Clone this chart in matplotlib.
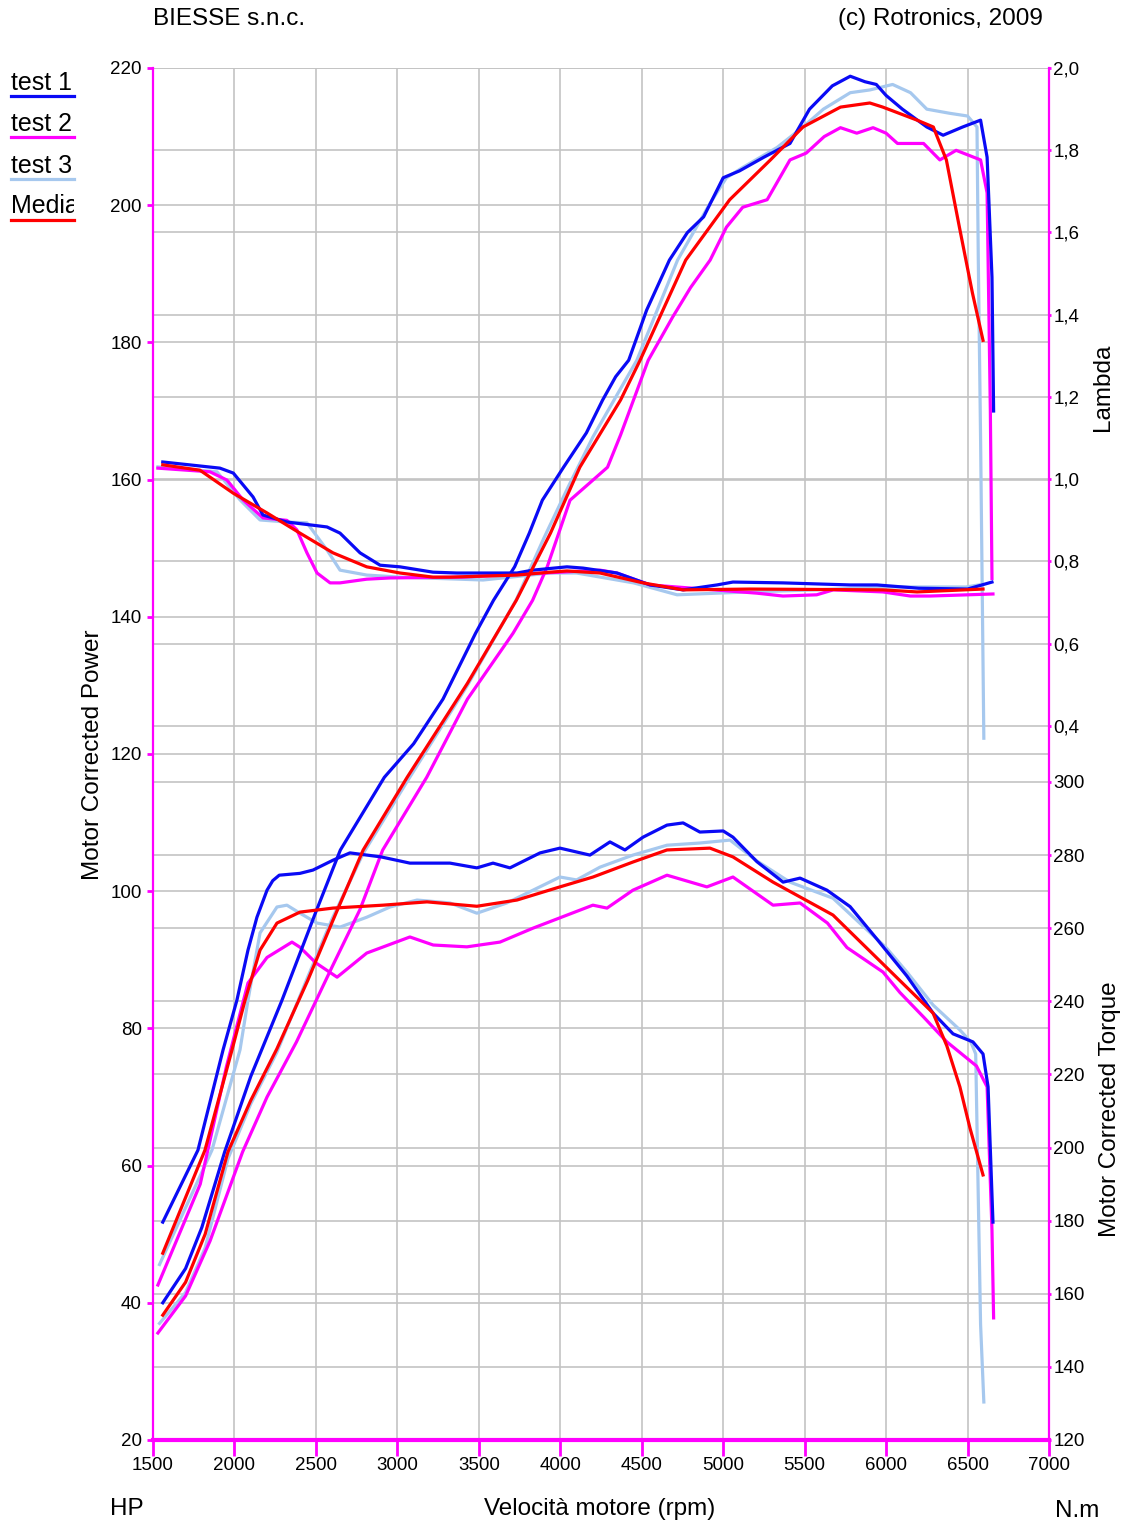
import matplotlib
matplotlib.use('Agg')
import matplotlib.pyplot as plt
from matplotlib.ticker import FuncFormatter, FixedLocator
from matplotlib.transforms import blended_transform_factory, Bbox, TransformedBbox
from matplotlib.lines import Line2D

plt.rcParams['font.family'] = ['Liberation Sans', 'DejaVu Sans']

# ---------------- data ----------------
series_names = ['test 1', 'test 2', 'test 3', 'Media']
series_colors = ['#0a0af5', '#ff00ff', '#a6c8ee', '#ff0000']

# Power (HP)
p1_rpm = [1560,1700,1800,1940,2100,2290,2500,2650,2920,3100,3280,3480,3590,3720,3810,3890,4020,4160,4260,4340,4420,4530,4670,4780,4880,5000,5100,5250,5410,5530,5670,5780,5870,5940,6000,6100,6250,6350,6470,6580,6620,6650,6660]
p1_hp = [40,45,51,62,73,84,97,106,116.6,121.5,128,137.6,142.4,147.3,152.2,157,161.8,166.8,171.6,175,177.4,184.7,192,196,198.3,204,205,207,209,214,217.4,218.8,218,217.6,216,214,211.4,210.2,211.4,212.4,207,189.5,170]
p2_rpm = [1530,1700,1850,2050,2200,2380,2600,2770,2910,3180,3430,3710,3830,3920,4060,4180,4290,4370,4540,4690,4800,4920,5020,5120,5270,5410,5510,5620,5720,5820,5920,6000,6070,6230,6330,6430,6580,6620,6640,6650]
p2_hp = [35.6,41,49,62,70,78,89,97.3,106,116.6,128,137.6,142.4,147.3,157,159.5,161.8,166.5,177.4,183.7,188,192,196.8,199.7,200.8,206.6,207.6,210,211.3,210.5,211.3,210.5,209,209,206.6,208,206.6,201.8,170,145.6]
p3_rpm = [1540,1700,1820,1960,2100,2260,2450,2600,2790,3060,3430,3730,3900,4050,4200,4470,4720,4920,5020,5120,5330,5490,5615,5780,5900,6040,6150,6250,6390,6500,6558,6566,6580,6600]
p3_hp = [37,41.5,48,61,69,76.5,87.5,96,105.5,116,130,142.5,151.5,159,166.2,177.4,192,200.3,204,205.5,208.4,211.4,214,216.4,216.8,217.6,216.4,214,213.4,213,211.4,192,166,122.3]
p4_rpm = [1560,1700,1820,1960,2100,2260,2450,2600,2790,3060,3430,3730,3940,4120,4370,4490,4770,5040,5290,5490,5720,5900,5980,6190,6290,6370,6450,6530,6595]
p4_hp = [38.2,43,50,62,69.5,77,87,95.5,106,116.6,130.3,142.4,152.2,161.8,171.6,177.4,192,200.8,206.6,211.4,214.3,214.9,214.3,212.4,211.4,206.6,196.8,187.2,180.3]

# Torque (N.m)
t1_rpm = [1560,1776,1930,2015,2083,2138,2200,2235,2275,2402,2482,2605,2709,2900,3077,3323,3488,3587,3691,3876,3998,4182,4305,4397,4508,4655,4754,4857,5000,5060,5207,5368,5472,5637,5779,5944,6128,6288,6411,6533,6595,6626,6656]
t1_nm = [179.6,199.3,226.7,240.3,254,263,270.4,273,274.5,275,275.9,278.6,280.6,279.5,277.8,277.8,276.5,277.8,276.5,280.6,281.9,280,283.6,281.4,284.9,288.2,288.8,286.3,286.6,284.9,278.2,272.6,273.7,270.4,265.9,257,246.9,236.8,231.1,228.9,225.6,216.6,179.6]
t2_rpm = [1530,1790,1950,2083,2200,2353,2402,2500,2630,2812,3077,3220,3427,3630,3832,4200,4287,4446,4655,4900,5060,5306,5472,5640,5760,5981,6085,6230,6373,6555,6620,6650,6660]
t2_nm = [162.4,190,222,245,252,256.2,254.8,250.5,246.6,253.2,257.6,255.4,254.9,256.2,260,266.3,265.5,270.4,274.5,271.3,274,266.3,266.9,261.4,254.7,248,242.4,235.7,228.9,222.3,216.6,177.4,153.4]
t3_rpm = [1540,1862,2034,2083,2157,2261,2322,2402,2507,2648,2812,2955,3121,3323,3488,3672,3998,4100,4244,4446,4655,4857,5042,5207,5410,5674,6000,6128,6288,6450,6520,6550,6580,6600]
t3_nm = [168,199.3,226.7,240.3,258.7,265.8,266.3,264.1,261.4,260.3,263,265.8,267.7,266.9,264.1,266.9,274,273.2,276.7,280,282.7,283.3,284.1,278.4,272.6,268.2,254.7,248,239,232.3,228.9,225.6,151.6,130.4]
t4_rpm = [1560,1819,1985,2065,2157,2261,2402,2605,2912,3182,3488,3734,3998,4201,4446,4655,4919,5060,5306,5674,5981,6288,6373,6453,6515,6595]
t4_nm = [171.1,199.3,226.7,240.3,254,261.4,264.4,265.5,266.3,267.2,266,267.7,271.3,274,278.1,281.4,281.9,279.5,272.6,263.6,250.2,236.8,227.8,216.6,205.3,192.5]

# Lambda
l1_rpm = [1560,1911,1993,2114,2175,2322,2568,2648,2771,2894,3016,3219,3366,3734,3832,4041,4139,4348,4551,4754,4962,5060,5367,5778,5944,6200,6500,6650]
l1_val = [1.042,1.027,1.015,0.957,0.913,0.896,0.884,0.869,0.821,0.791,0.787,0.774,0.772,0.772,0.779,0.787,0.784,0.772,0.743,0.731,0.743,0.75,0.748,0.743,0.743,0.735,0.733,0.75]
l2_rpm = [1530,1850,1954,2052,2175,2322,2383,2445,2507,2587,2648,2812,2955,3400,3900,4244,4348,4551,5207,5367,5574,5676,5981,6149,6270,6656]
l2_val = [1.027,1.018,0.998,0.95,0.906,0.9,0.877,0.821,0.772,0.748,0.748,0.757,0.76,0.762,0.772,0.779,0.772,0.743,0.723,0.716,0.719,0.731,0.726,0.716,0.716,0.721]
l3_rpm = [1530,1893,2034,2157,2322,2445,2568,2648,2812,3016,3526,3937,4100,4450,4717,4962,5165,5574,5981,6490,6570]
l3_val = [1.03,1.018,0.95,0.901,0.896,0.894,0.828,0.779,0.767,0.762,0.755,0.772,0.772,0.748,0.719,0.723,0.726,0.731,0.738,0.738,0.743]
l4_rpm = [1560,1788,1993,2200,2402,2605,2812,3016,3219,3323,3734,3937,4041,4244,4508,4754,5165,5981,6190,6595]
l4_val = [1.035,1.022,0.966,0.918,0.869,0.821,0.787,0.772,0.762,0.762,0.767,0.774,0.777,0.772,0.748,0.731,0.733,0.731,0.726,0.733]

rpm_ticks = [1500,2000,2500,3000,3500,4000,4500,5000,5500,6000,6500,7000]
hp_ticks = [20,40,60,80,100,120,140,160,180,200,220]
lambda_ticks = [0.4,0.6,0.8,1.0,1.2,1.4,1.6,1.8,2.0]
torque_ticks = [120,140,160,180,200,220,240,260,280,300]

# ---------------- figure ----------------
W, H = 1123, 1524
fig = plt.figure(figsize=(W / 100, H / 100), dpi=100)
def fx(px): return px / W
def fy(py): return 1 - py / H

MAG = '#ff00ff'
GRID = '#c3c3c3'
FS_T = 13.5
FS_L = 17.5

axP = fig.add_axes([fx(153), fy(1440), fx(1049) - fx(153), fy(68) - fy(1440)])
axL = axP.twinx()
axT = axP.twinx()
axP.set_xlim(1500, 7000)
axP.set_ylim(20, 220)
axL.set_ylim(-1.3362, 2.0)
axT.set_ylim(120, 495.3)

for a in (axL, axT):
    a.patch.set_visible(False)
    for s in a.spines.values():
        s.set_visible(False)
axT.spines['right'].set_visible(True)
axT.spines['right'].set_color(MAG)
axT.spines['right'].set_linewidth(1.6)

for side in ('top', 'right'):
    axP.spines[side].set_visible(False)
axP.spines['left'].set_color(MAG)
axP.spines['left'].set_linewidth(1.6)
axP.spines['bottom'].set_color(MAG)
axP.spines['bottom'].set_linewidth(3)

# grid lines
for v in rpm_ticks:
    axP.axvline(v, color=GRID, lw=1.2, zorder=0.5)
for v in hp_ticks:
    axP.axhline(v, color=GRID, lw=1.2, zorder=0.5)
trL = blended_transform_factory(axP.transAxes, axL.transData)
trT = blended_transform_factory(axP.transAxes, axT.transData)
for v in lambda_ticks:
    axP.plot([0, 1], [v, v], transform=trL, color=GRID, lw=1.2, zorder=0.5)
for v in torque_ticks:
    axP.plot([0, 1], [v, v], transform=trT, color=GRID, lw=1.2, zorder=0.5)

# curves
power = [(p1_rpm, p1_hp), (p2_rpm, p2_hp), (p3_rpm, p3_hp), (p4_rpm, p4_hp)]
torque = [(t1_rpm, t1_nm), (t2_rpm, t2_nm), (t3_rpm, t3_nm), (t4_rpm, t4_nm)]
lam = [(l1_rpm, l1_val), (l2_rpm, l2_val), (l3_rpm, l3_val), (l4_rpm, l4_val)]
zords = [3, 2.5, 2, 4]
LW = 2.3
for i, c in enumerate(series_colors):
    axP.plot(*power[i], color=c, lw=LW, zorder=zords[i], solid_joinstyle='round')
    axP.plot(*torque[i], color=c, lw=LW, zorder=zords[i], transform=axT.transData,
             solid_joinstyle='round')
    axP.plot(*lam[i], color=c, lw=LW, zorder=zords[i], transform=axL.transData,
             solid_joinstyle='round')

axP.set_xlim(1500, 7000)
axP.set_ylim(20, 220)

# ticks
axP.xaxis.set_major_locator(FixedLocator(rpm_ticks))
axP.yaxis.set_major_locator(FixedLocator(hp_ticks))
axP.tick_params(axis='x', direction='out', length=11.5, width=2, color=MAG, pad=1, labelsize=FS_T)
axP.tick_params(axis='y', direction='out', length=4.5, width=2, color=MAG, pad=3.5, labelsize=FS_T)

axL.yaxis.set_major_locator(FixedLocator(lambda_ticks))
axL.yaxis.set_major_formatter(FuncFormatter(lambda v, p: f'{v:.1f}'.replace('.', ',')))
axT.yaxis.set_major_locator(FixedLocator(torque_ticks))
for a in (axL, axT):
    a.tick_params(axis='y', direction='out', length=1.5, width=2, color=MAG, pad=1.5, labelsize=FS_T)

# texts
fig.text(fx(153), fy(19), 'BIESSE s.n.c.', ha='left', va='center', fontsize=FS_L)
fig.text(fx(1043), fy(19), '(c) Rotronics, 2009', ha='right', va='center', fontsize=FS_L)
fig.text(fx(110), fy(1509), 'HP', ha='left', va='center', fontsize=FS_L)
fig.text(fx(600), fy(1509), 'Velocità motore (rpm)', ha='center', va='center', fontsize=FS_L)
fig.text(fx(1055), fy(1511), 'N.m', ha='left', va='center', fontsize=FS_L)
fig.text(fx(93), fy(755), 'Motor Corrected Power', rotation=90, ha='center', va='center', fontsize=FS_L)
fig.text(fx(1103), fy(387), 'Lambda', rotation=90, ha='center', va='center', fontsize=FS_L)
fig.text(fx(1110), fy(1109), 'Motor Corrected Torque', rotation=90, ha='center', va='center', fontsize=FS_L)

# legend (left column, clipped)
leg_y = [83, 124, 166, 206]
und_y = [96, 137, 179, 220]
clipbox = TransformedBbox(Bbox([[0, 0], [fx(74), 1]]), fig.transFigure)
for name, c, ty, uy in zip(series_names, series_colors, leg_y, und_y):
    t = fig.text(fx(11), fy(ty), name, ha='left', va='center', fontsize=18)
    t.set_clip_box(clipbox)
    t.set_clip_on(True)
    fig.add_artist(Line2D([fx(11), fx(74)], [fy(uy), fy(uy)], color=c, lw=2.3,
                          transform=fig.transFigure))

fig.savefig('out.png', dpi=100)
